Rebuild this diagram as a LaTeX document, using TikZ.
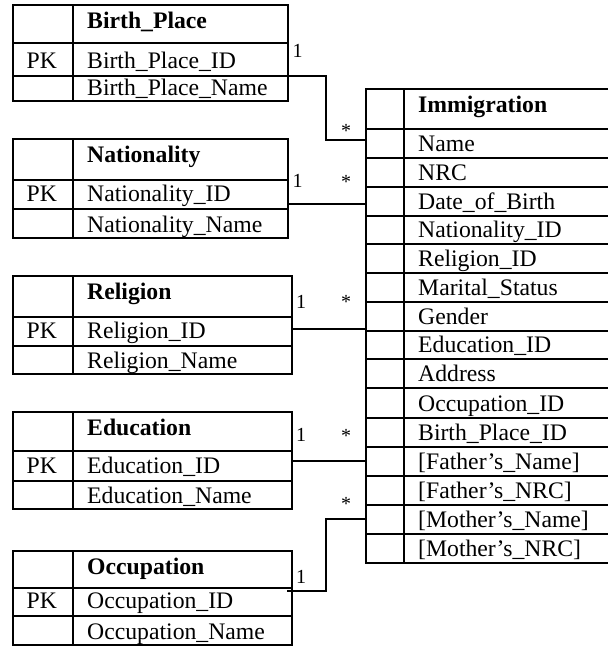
\documentclass[tikz,border=0pt]{standalone}
\usepackage{fontspec}
\setmainfont{Liberation Serif}
\tikzset{
  tbl/.style={line width=1.8pt},
  conn/.style={line width=1.5pt},
  txt/.style={anchor=base west,inner sep=0pt,font=\fontsize{23.7}{28}\selectfont},
  hdr/.style={txt,font=\fontsize{23.7}{28}\selectfont\bfseries},
  lbl/.style={anchor=base,inner sep=0pt,font=\fontsize{20}{24}\selectfont},
}
\newcommand\ltab[9]{%
  \draw[tbl] (13,#2) rectangle (#6,#5);
  \draw[tbl] (73,#2) -- (73,#5);
  \draw[tbl] (13,#3) -- (#6,#3);
  \draw[tbl] (13,#4) -- (#6,#4);
  \node[hdr] (#1-h) at (87,#2+23) {#7};
  \node[txt] (#1-pk) at (26.5,#4-8) {PK};
  \node[txt] (#1-id) at (87,#4-8) {#8};
  \node[txt] (#1-nm) at (87,#5-6) {#9};
}
\begin{document}
\begin{tikzpicture}[x=1pt,y=-1pt]
\useasboundingbox (0,0) rectangle (608,646);
% left tables
\ltab{bp}{5}{43}{76}{101}{288}{Birth\_Place}{Birth\_Place\_ID}{Birth\_Place\_Name}
\ltab{nat}{139}{180}{209}{238}{288}{Nationality}{Nationality\_ID}{Nationality\_Name}
\ltab{rel}{276}{317}{346}{374}{292}{Religion}{Religion\_ID}{Religion\_Name}
\ltab{edu}{412}{451}{481}{509}{292}{Education}{Education\_ID}{Education\_Name}
\ltab{occ}{551}{588}{616}{645}{292}{Occupation}{Occupation\_ID}{Occupation\_Name}
% Immigration table
\draw[tbl] (366,89) rectangle (612,563);
\draw[tbl] (404,89) -- (404,563);
\draw[tbl] (366,129) -- (612,129);
\node[hdr] (im-h) at (418,112) {Immigration};
\foreach \b/\t [count=\i] in {158/Name,187/NRC,216/Date\_of\_Birth,244/Nationality\_ID,273/Religion\_ID,302/Marital\_Status,331/Gender,359/Education\_ID,388/Address,418/Occupation\_ID,447/Birth\_Place\_ID,476/{[Father’s\_Name]},505/{[Father’s\_NRC]},534/{[Mother’s\_Name]},563/{[Mother’s\_NRC]}}{
  \draw[tbl] (366,\b) -- (612,\b);
  \node[txt] (im-\i) at (418,\b-7) {\t};
}
% connector end points
\coordinate (bpE) at (288,76);
\coordinate (bpK) at (326,76);
\coordinate (imA) at (366,140);
\coordinate (natE) at (288,204);
\coordinate (imB) at (366,204);
\coordinate (relE) at (292,329);
\coordinate (imC) at (366,329);
\coordinate (eduE) at (292,461);
\coordinate (imD) at (366,461);
\coordinate (occE) at (287,591);
\coordinate (occK) at (326,591);
\coordinate (imE) at (366,519);
\draw[conn] (bpE) -- (bpK) |- (imA);
\draw[conn] (natE) -- (imB);
\draw[conn] (relE) -- (imC);
\draw[conn] (eduE) -- (imD);
\draw[conn] (occE) -- (occK) |- (imE);
% multiplicities
\node[lbl] (m1) at (297.5,57) {1};
\node[lbl] (s1) at (346,137) {*};
\node[lbl] (m2) at (297.5,187) {1};
\node[lbl] (s2) at (346,188) {*};
\node[lbl] (m3) at (301,308) {1};
\node[lbl] (s3) at (346,308) {*};
\node[lbl] (m4) at (301,441) {1};
\node[lbl] (s4) at (346,442) {*};
\node[lbl] (m5) at (301,583) {1};
\node[lbl] (s5) at (346,510) {*};
\end{tikzpicture}
\end{document}
